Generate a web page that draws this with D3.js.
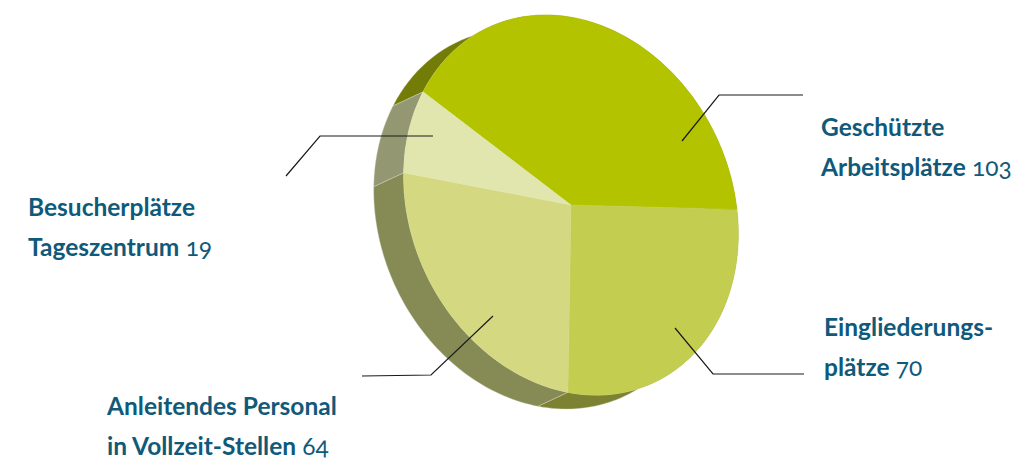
<!DOCTYPE html>
<html>
<head>
  <meta charset="utf-8">
  <title>Plaetze</title>
  <style>
    body { margin: 0; background: #fff; }
    svg { display: block; }
    text { font-family: Lato, "Noto Sans", sans-serif; font-size: 24.5px; fill: #0f5a7a; }
    .name { font-weight: 700; }
    .num { font-weight: 400; font-feature-settings: "onum"; }
  </style>
</head>
<body>
  <div id="chart"></div>
  <script src="https://d3js.org/d3.v7.min.js"></script>
  <script>
    let categories = ['Geschützte Arbeitsplätze', 'Eingliederungsplätze', 'Anleitendes Personal', 'Besucherplätze Tageszentrum'];
    let values = [103, 70, 64, 19];
    let topColors = ['#b3c300', '#c3cd50', '#d4d981', '#e1e6ae'];
    let wallColors = ['#727c06', '#7c8231', '#868b55', '#939873'];
    let firstLines = ['Geschützte', 'Eingliederungs-', 'Anleitendes Personal', 'Besucherplätze'];
    let secondLines = ['Arbeitsplätze', 'plätze', 'in Vollzeit-Stellen', 'Tageszentrum'];
    let labelX = [821, 824, 107, 28];
    let labelY = [136, 336, 415, 216];
    let leaders = [
      [[682, 141], [719, 95], [803, 95]],
      [[675, 328], [713, 374], [804, 374]],
      [[493, 316], [431, 375], [362, 376]],
      [[433, 136], [320, 136], [286, 176]]
    ];

    let svg = d3.select('#chart').append('svg')
      .attr('width', 1024)
      .attr('height', 459);

    // the disc is a unit circle pushed through a skewed projection
    let cx = 571, cy = 205;
    let project = {a: 166, b: 5, c: 21, d: 190};
    let depth = {x: -30, y: 14};

    let pie = d3.pie()
      .sort(null)
      .startAngle(-55 * Math.PI / 180)
      .endAngle(305 * Math.PI / 180);
    let slices = pie(values);

    let arc = d3.arc().innerRadius(0).outerRadius(1);

    function rimPoint(angle, dx, dy) {
      let X = Math.sin(angle), Y = -Math.cos(angle);
      return [cx + dx + project.a * X + project.c * Y, cy + dy + project.b * X + project.d * Y];
    }

    // side wall of one slice: front rim out, back rim home
    function wallPath(d) {
      let steps = d3.range(0, 61).map(i => d.startAngle + (d.endAngle - d.startAngle) * i / 60);
      let front = steps.map(a => rimPoint(a, 0, 0));
      let back = steps.slice().reverse().map(a => rimPoint(a, depth.x, depth.y));
      return d3.line()(front.concat(back)) + 'Z';
    }

    svg.append('g').selectAll('path')
      .data(slices)
      .enter()
      .append('path')
      .attr('d', wallPath)
      .style('fill', (d, i) => wallColors[i])
      .style('stroke', '#d8d8c8')
      .style('stroke-width', 0.4);

    svg.append('g')
      .attr('transform', 'matrix(' + [project.a, project.b, project.c, project.d, cx, cy].join(',') + ')')
      .selectAll('path')
      .data(slices)
      .enter()
      .append('path')
      .attr('d', arc)
      .style('fill', (d, i) => topColors[i])
      .style('stroke', (d, i) => topColors[i])
      .style('stroke-width', 0.5)
      .style('vector-effect', 'non-scaling-stroke');

    svg.append('g').selectAll('path')
      .data(leaders)
      .enter()
      .append('path')
      .attr('d', d3.line())
      .style('fill', 'none')
      .style('stroke', '#1a1a1a')
      .style('stroke-width', 1.2);

    let labels = svg.append('g').selectAll('g')
      .data(categories)
      .enter()
      .append('g');

    labels.append('text')
      .attr('class', 'name')
      .attr('x', (d, i) => labelX[i])
      .attr('y', (d, i) => labelY[i])
      .text((d, i) => firstLines[i]);

    let second = labels.append('text')
      .attr('x', (d, i) => labelX[i])
      .attr('y', (d, i) => labelY[i] + 40);
    second.append('tspan')
      .attr('class', 'name')
      .text((d, i) => secondLines[i]);
    second.append('tspan')
      .attr('class', 'num')
      .text((d, i) => ' ' + values[i]);
  </script>
</body>
</html>
